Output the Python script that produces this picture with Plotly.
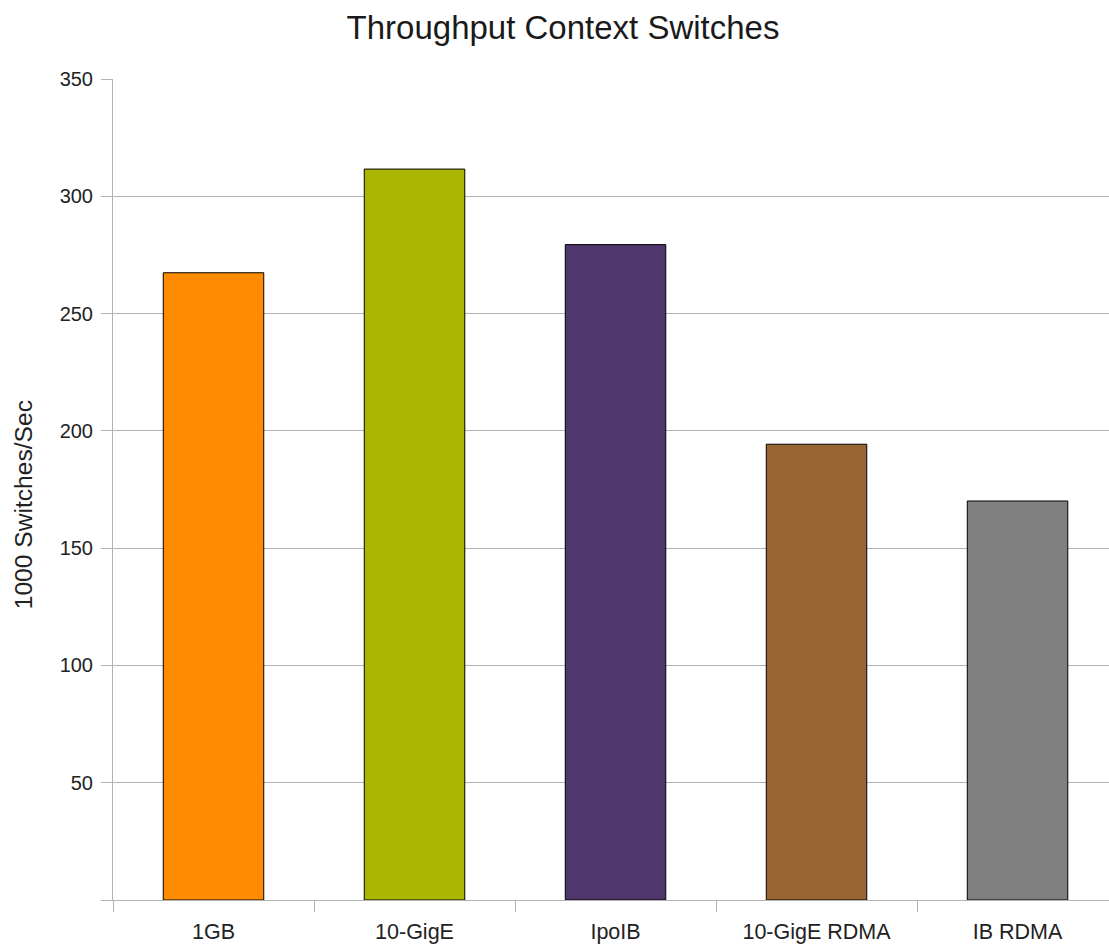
import plotly.graph_objects as go

categories = ["1GB", "10-GigE", "IpoIB", "10-GigE RDMA", "IB RDMA"]
switches_k = [267.4, 311.6, 279.4, 194.3, 170.1]
bar_colors = ["#ff8c00", "#abb600", "#4e376c", "#996633", "#808080"]
y_ticks = [0, 50, 100, 150, 200, 250, 300, 350]
y_tick_labels = ["", "50", "100", "150", "200", "250", "300", "350"]

fig = go.Figure(
    go.Bar(
        x=categories,
        y=switches_k,
        marker=dict(color=bar_colors, line=dict(color="#000000", width=1)),
        width=0.5,
    )
)

fig.update_layout(
    width=1109,
    height=947,
    margin=dict(l=113, r=0, t=79, b=47),
    paper_bgcolor="white",
    plot_bgcolor="white",
    font=dict(family="Liberation Sans, Arial, sans-serif", size=21, color="#222222"),
    title=dict(
        text="Throughput Context Switches",
        xref="container",
        x=0.5077,
        xanchor="center",
        y=0.971,
        yanchor="middle",
        font=dict(size=33, color="#1a1a1a"),
    ),
    showlegend=False,
    bargap=0.5,
    annotations=[
        dict(
            text="1000 Switches/Sec",
            textangle=-90,
            xref="paper",
            yref="paper",
            x=-0.0904,
            y=0.482,
            xanchor="center",
            yanchor="middle",
            showarrow=False,
            font=dict(size=24.6, color="#222222"),
        )
    ],
)

# the last category is clipped slightly at the right edge
fig.update_xaxes(
    type="category",
    range=[-0.5, 4.455],
    tickson="boundaries",
    ticks="outside",
    ticklen=11,
    tickcolor="#b3b3b3",
    showline=True,
    linecolor="#b3b3b3",
    showgrid=False,
    tickfont=dict(size=21.5),
    ticklabelstandoff=12,
)

fig.update_yaxes(
    range=[0, 350],
    tickvals=y_ticks,
    ticktext=y_tick_labels,
    ticks="outside",
    ticklen=11,
    tickcolor="#b3b3b3",
    showline=True,
    linecolor="#b3b3b3",
    showgrid=True,
    gridcolor="#b3b3b3",
    zeroline=False,
    tickfont=dict(size=20),
    ticklabelstandoff=4,
)

fig.write_html("out.html")
